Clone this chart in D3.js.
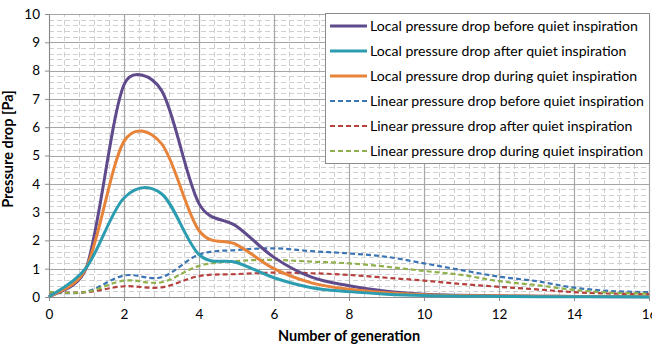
<!DOCTYPE html>
<html>
<head>
<meta charset="utf-8">
<script src="https://cdn.jsdelivr.net/npm/d3@7"></script>
<style>
  body { margin: 0; background: #fff; }
  svg { display: block; font-family: Lato, "Liberation Sans", sans-serif; }
</style>
</head>
<body>
<div id="chart"></div>
<script>
// data
const generation = [0, 1, 2, 3, 4, 5, 6, 7, 8, 9, 10, 11, 12, 13, 14, 15, 16];

const localBefore = [0, 1.05, 7.5, 7.3, 3.3, 2.5, 1.4, 0.7, 0.4, 0.2, 0.1, 0.06, 0.04, 0.03, 0.02, 0.01, 0.01];
const localAfter  = [0, 1.05, 3.5, 3.65, 1.5, 1.22, 0.68, 0.33, 0.19, 0.1, 0.05, 0.03, 0.02, 0.01, 0.01, 0.01, 0];
const localDuring = [0, 1.05, 5.5, 5.42, 2.35, 1.85, 1.0, 0.5, 0.27, 0.15, 0.08, 0.05, 0.04, 0.03, 0.02, 0.02, 0.02];
const linBefore   = [0.15, 0.19, 0.76, 0.7, 1.5, 1.66, 1.72, 1.62, 1.54, 1.42, 1.19, 0.95, 0.72, 0.56, 0.33, 0.21, 0.17];
const linAfter    = [0.17, 0.17, 0.38, 0.34, 0.74, 0.81, 0.86, 0.84, 0.78, 0.68, 0.58, 0.46, 0.36, 0.27, 0.17, 0.12, 0.1];
const linDuring   = [0.17, 0.18, 0.58, 0.52, 1.1, 1.27, 1.31, 1.25, 1.19, 1.07, 0.92, 0.78, 0.56, 0.42, 0.25, 0.15, 0.12];

const seriesNames = [
  "Local pressure drop before quiet inspiration",
  "Local pressure drop after quiet inspiration",
  "Local pressure drop during quiet inspiration",
  "Linear pressure drop before quiet inspiration",
  "Linear pressure drop after quiet inspiration",
  "Linear pressure drop during quiet inspiration"
];
const seriesValues = [localBefore, localAfter, localDuring, linBefore, linAfter, linDuring];
const seriesColors = ["#5f4a8c", "#2c9db0", "#e8833a", "#3b75b3", "#b5403e", "#8fb04a"];
const seriesDashed = [false, false, false, true, true, true];

const xTicks = [0, 2, 4, 6, 8, 10, 12, 14, 16];
const yTicks = [0, 1, 2, 3, 4, 5, 6, 7, 8, 9, 10];

const width = 652, height = 346;
const margin = { top: 14, right: 3, bottom: 49, left: 49 };

const svg = d3.select("#chart").append("svg")
  .attr("width", width)
  .attr("height", height);

const x = d3.scaleLinear().domain([0, 16]).range([margin.left, width - margin.right]);
const y = d3.scaleLinear().domain([0, 10]).range([height - margin.bottom, margin.top]);

// spreadsheet-style smoothing: catmull-rom tangents, control arms capped at half the segment
function smoothCurve(context) {
  let pts;
  return {
    areaStart() {}, areaEnd() {},
    lineStart() { pts = []; },
    point(px, py) { pts.push([+px, +py]); },
    lineEnd() {
      const n = pts.length;
      if (!n) return;
      context.moveTo(pts[0][0], pts[0][1]);
      const dist = (a, b) => Math.hypot(b[0] - a[0], b[1] - a[1]);
      const tan = i => {
        const a = pts[Math.max(i - 1, 0)], b = pts[Math.min(i + 1, n - 1)];
        return [(b[0] - a[0]) / 6, (b[1] - a[1]) / 6];
      };
      for (let i = 0; i < n - 1; i++) {
        const p = pts[i], q = pts[i + 1], seg = dist(p, q);
        let t1 = tan(i), t2 = tan(i + 1);
        const l1 = Math.hypot(t1[0], t1[1]), l2 = Math.hypot(t2[0], t2[1]);
        const s1 = l1 > seg / 2 ? seg / 2 / l1 : 1;
        const s2 = l2 > seg / 2 ? seg / 2 / l2 : 1;
        context.bezierCurveTo(
          p[0] + t1[0] * s1, p[1] + t1[1] * s1,
          q[0] - t2[0] * s2, q[1] - t2[1] * s2,
          q[0], q[1]);
      }
    }
  };
}

// minor grid (dashed)
const minorX = d3.range(0, 16.001, 0.4).filter(v => Math.abs(v / 2 - Math.round(v / 2)) > 1e-6);
const minorY = d3.range(0, 10.001, 0.2).filter(v => Math.abs(v - Math.round(v)) > 1e-6);

svg.append("g")
  .selectAll("line")
  .data(minorY)
  .join("line")
  .attr("x1", x(0)).attr("x2", x(16))
  .attr("y1", d => Math.round(y(d)) + 0.5).attr("y2", d => Math.round(y(d)) + 0.5)
  .attr("stroke", "#cfcfcf")
  .attr("stroke-dasharray", "5,3");

svg.append("g")
  .selectAll("line")
  .data(minorX)
  .join("line")
  .attr("y1", y(0)).attr("y2", y(10))
  .attr("x1", d => Math.round(x(d)) + 0.5).attr("x2", d => Math.round(x(d)) + 0.5)
  .attr("stroke", "#cfcfcf")
  .attr("stroke-dasharray", "5,3");

// major grid
svg.append("g")
  .selectAll("line")
  .data(yTicks)
  .join("line")
  .attr("x1", x(0)).attr("x2", x(16))
  .attr("y1", d => Math.round(y(d)) + 0.5).attr("y2", d => Math.round(y(d)) + 0.5)
  .attr("stroke", "#a6a6a6")
  .attr("stroke-width", 1.2);

svg.append("g")
  .selectAll("line")
  .data(xTicks)
  .join("line")
  .attr("y1", y(0)).attr("y2", y(10))
  .attr("x1", d => Math.round(x(d)) + 0.5).attr("x2", d => Math.round(x(d)) + 0.5)
  .attr("stroke", "#a6a6a6")
  .attr("stroke-width", 1.2);

// axes
const xAxis = svg.append("g")
  .attr("transform", `translate(0,${y(0)})`)
  .call(d3.axisBottom(x).tickValues(xTicks).tickSize(4).tickPadding(8).tickFormat(d3.format("d")));
const yAxis = svg.append("g")
  .attr("transform", `translate(${x(0)},0)`)
  .call(d3.axisLeft(y).tickValues(yTicks).tickSize(4).tickPadding(5).tickFormat(d3.format("d")));

[xAxis, yAxis].forEach(g => {
  g.select(".domain").attr("stroke", "#8c8c8c");
  g.selectAll(".tick line").attr("stroke", "#8c8c8c");
  g.selectAll(".tick text").attr("fill", "#000").style("font-size", "13.5px").style("font-family", "Lato, sans-serif");
});

// lines
const line = d3.line()
  .x((d, i) => x(generation[i]))
  .y(d => y(d))
  .curve(smoothCurve);

const order = [3, 4, 5, 0, 2, 1];
svg.append("g")
  .selectAll("path")
  .data(order)
  .join("path")
  .attr("d", i => line(seriesValues[i]))
  .attr("fill", "none")
  .attr("stroke", i => seriesColors[i])
  .attr("stroke-width", i => seriesDashed[i] ? 2.2 : 3)
  .attr("stroke-dasharray", i => seriesDashed[i] ? "5,3" : null)
  .attr("stroke-linejoin", "round");

// legend
const legend = svg.append("g").attr("transform", "translate(325,13)");
legend.append("rect")
  .attr("x", 0.5).attr("y", 0.5)
  .attr("width", 324).attr("height", 150)
  .attr("fill", "#fff")
  .attr("stroke", "#8c8c8c");

const items = legend.selectAll("g.item")
  .data(seriesNames)
  .join("g")
  .attr("class", "item")
  .attr("transform", (d, i) => `translate(0,${13 + i * 25})`);

items.append("line")
  .attr("x1", 5).attr("x2", 42)
  .attr("stroke", (d, i) => seriesColors[i])
  .attr("stroke-width", (d, i) => seriesDashed[i] ? 2.2 : 3)
  .attr("stroke-dasharray", (d, i) => seriesDashed[i] ? "5,3" : null);

items.append("text")
  .attr("x", 45)
  .attr("dy", "0.35em")
  .style("font-size", "14.1px")
  .text(d => d);

// axis titles
svg.append("text")
  .attr("x", x(8))
  .attr("y", 341)
  .attr("text-anchor", "middle")
  .style("font-size", "14.5px")
  .style("font-weight", "bold")
  .text("Number of generation");

svg.append("text")
  .attr("transform", "translate(13,149) rotate(-90)")
  .attr("text-anchor", "middle")
  .style("font-size", "14.5px")
  .style("font-weight", "bold")
  .text("Pressure drop [Pa]");
</script>
</body>
</html>
